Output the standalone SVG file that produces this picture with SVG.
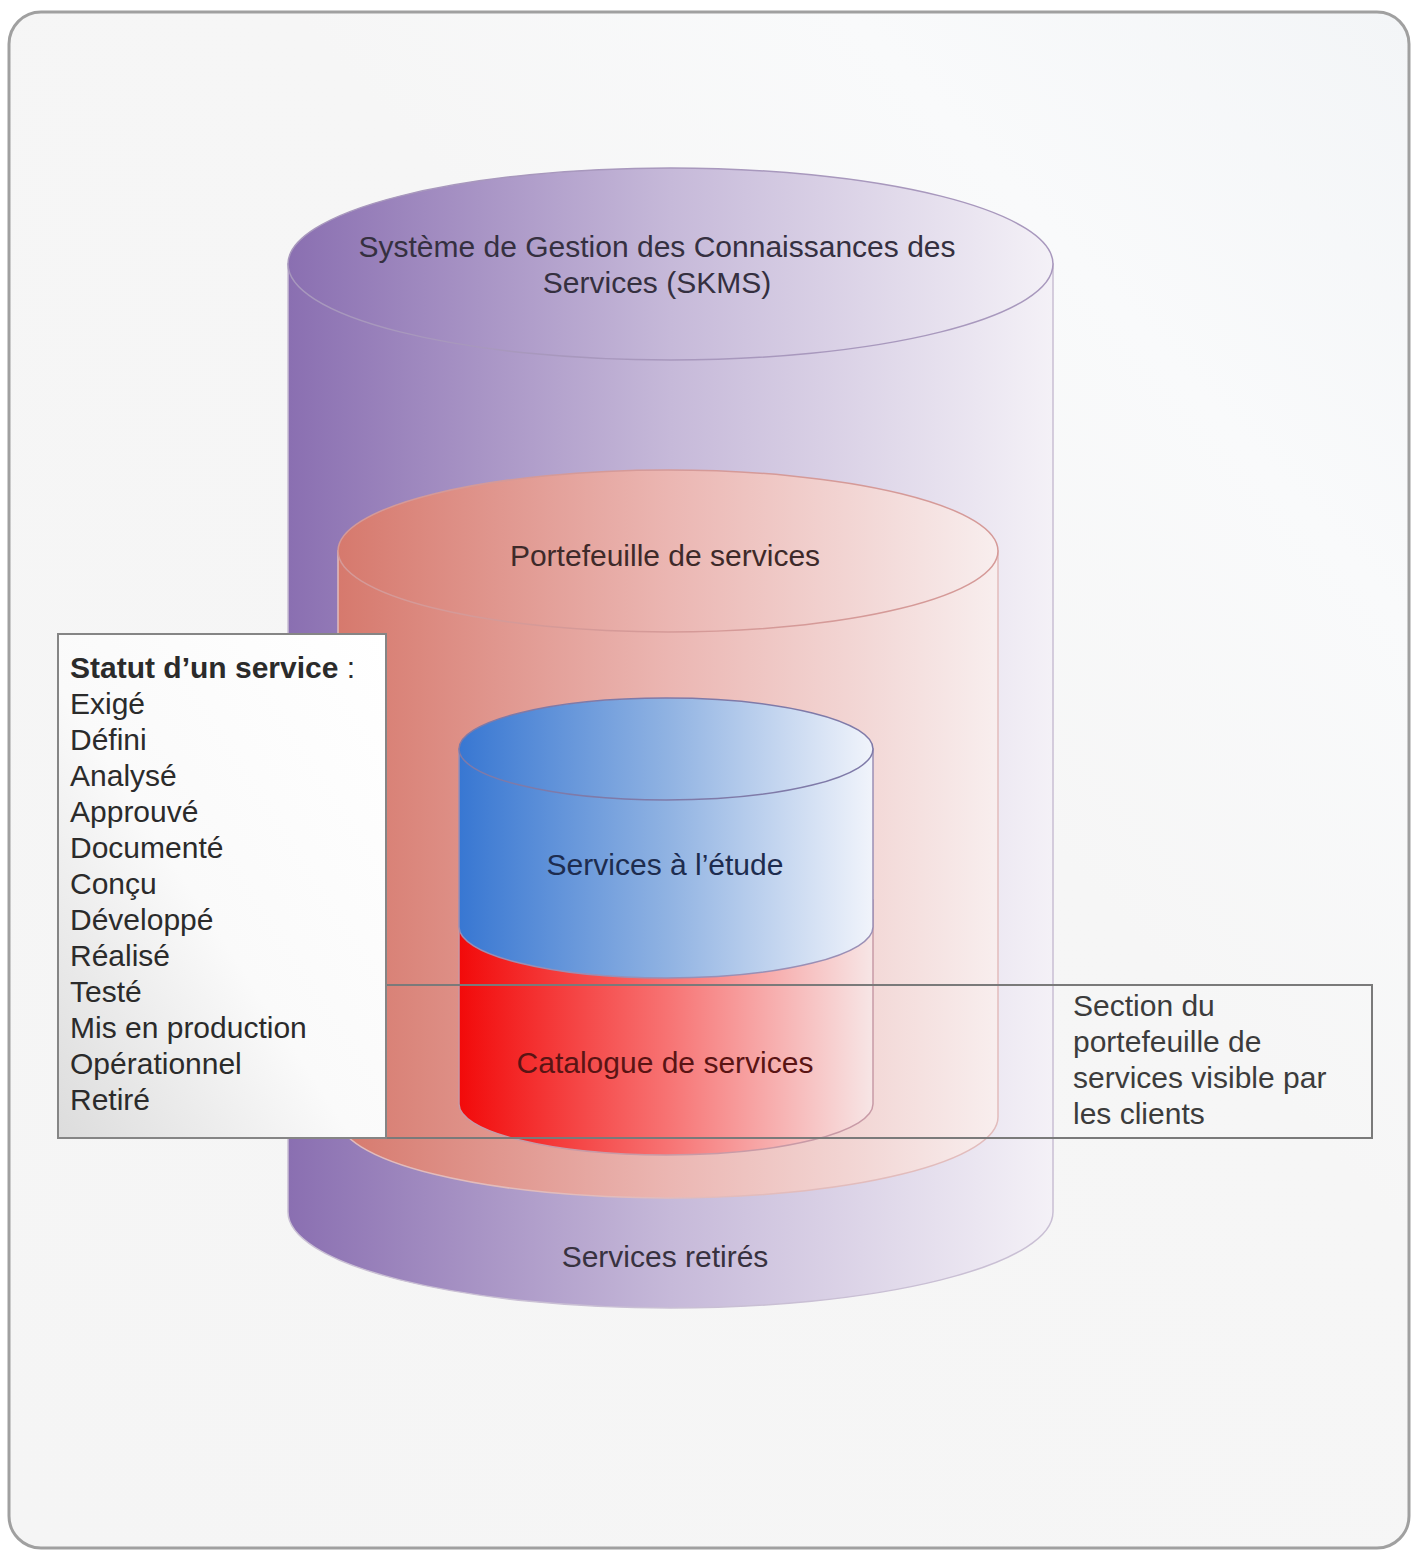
<svg xmlns="http://www.w3.org/2000/svg" width="1419" height="1552" viewBox="0 0 1419 1552">
  <defs>
    <linearGradient id="bg" x1="0" y1="1" x2="1" y2="0">
      <stop offset="0" stop-color="#f5f5f5"/>
      <stop offset="0.6" stop-color="#f6f6f6"/>
      <stop offset="0.8" stop-color="#f9fafb"/>
      <stop offset="1" stop-color="#f3f5f7"/>
    </linearGradient>
    <linearGradient id="purple" gradientUnits="userSpaceOnUse" x1="288" y1="0" x2="1053" y2="0">
      <stop offset="0" stop-color="#8a6fb1"/>
      <stop offset="0.5" stop-color="#c6b9d9"/>
      <stop offset="1" stop-color="#f4f1f7"/>
    </linearGradient>
    <linearGradient id="salmon" gradientUnits="userSpaceOnUse" x1="338" y1="0" x2="998" y2="0">
      <stop offset="0" stop-color="#d6796d"/>
      <stop offset="0.5" stop-color="#ebb6b2"/>
      <stop offset="1" stop-color="#f8eeee"/>
    </linearGradient>
    <linearGradient id="blue" gradientUnits="userSpaceOnUse" x1="459" y1="0" x2="873" y2="0">
      <stop offset="0" stop-color="#3877d2"/>
      <stop offset="0.5" stop-color="#8fb2e2"/>
      <stop offset="1" stop-color="#f1f4fb"/>
    </linearGradient>
    <linearGradient id="red" gradientUnits="userSpaceOnUse" x1="459" y1="0" x2="873" y2="0">
      <stop offset="0" stop-color="#f20a0a"/>
      <stop offset="0.5" stop-color="#f77272"/>
      <stop offset="1" stop-color="#f7e6e6"/>
    </linearGradient>
    <linearGradient id="card" x1="1" y1="0" x2="0" y2="1">
      <stop offset="0" stop-color="#ffffff"/>
      <stop offset="0.55" stop-color="#fafafa"/>
      <stop offset="1" stop-color="#dcdcdc"/>
    </linearGradient>
  </defs>
  <style>
    text { font-family: "Liberation Sans", Arial, sans-serif; font-size: 30px; }
    .mid { text-anchor: middle; }
    .edge { stroke-width: 1.5; }
    .list { fill: #2b2b2b; }
    .note { fill: #3c3c3c; }
  </style>

  <!-- page frame -->
  <rect x="9" y="12" width="1400" height="1536" rx="32" fill="url(#bg)" stroke="#a0a0a0" stroke-width="3"/>

  <!-- SKMS (outer cylinder) -->
  <g id="skms">
    <path d="M288,264 L288,1212 A382.5,96 0 0 0 1053,1212 L1053,264 Z" fill="url(#purple)" stroke="#c9bfd4" class="edge"/>
    <ellipse cx="670.5" cy="264" rx="382.5" ry="96" fill="url(#purple)" stroke="#a898bd" class="edge"/>
    <text class="mid" x="657" y="257" fill="#353040">Système de Gestion des Connaissances des</text>
    <text class="mid" x="657" y="293" fill="#353040">Services (SKMS)</text>
    <text class="mid" x="665" y="1267" fill="#38323f">Services retirés</text>
  </g>

  <!-- service portfolio (middle cylinder) -->
  <g id="portefeuille">
    <path d="M338,551 L338,1117 A330,81 0 0 0 998,1117 L998,551 Z" fill="url(#salmon)" stroke="#e2bcbc" class="edge"/>
    <ellipse cx="668" cy="551" rx="330" ry="81" fill="url(#salmon)" stroke="#d59a98" class="edge"/>
    <text class="mid" x="665" y="566" fill="#3e2a2a">Portefeuille de services</text>
  </g>

  <!-- service catalogue (lower inner cylinder) -->
  <g id="catalogue">
    <path d="M459,900 L459,1104 A207,51 0 0 0 873,1104 L873,900 Z" fill="url(#red)" stroke="#c89aa6" class="edge"/>
    <text class="mid" x="665" y="1073" fill="#5a1414">Catalogue de services</text>
  </g>

  <!-- service pipeline (upper inner cylinder) -->
  <g id="etude">
    <path d="M459,749 L459,927 A207,51 0 0 0 873,927 L873,749 Z" fill="url(#blue)" stroke="#9a8fb5" class="edge"/>
    <ellipse cx="666" cy="749" rx="207" ry="51" fill="url(#blue)" stroke="#7f7aa8" class="edge"/>
    <text class="mid" x="665" y="875" fill="#1d2c4f">Services à l’étude</text>
  </g>

  <!-- customer-visible section -->
  <g id="section-visible">
    <rect x="58" y="985" width="1314" height="153" fill="none" stroke="#7a7a7a" stroke-width="2"/>
    <text class="note" x="1073" y="1016">Section du</text>
    <text class="note" x="1073" y="1052">portefeuille de</text>
    <text class="note" x="1073" y="1088">services visible par</text>
    <text class="note" x="1073" y="1124">les clients</text>
  </g>

  <!-- service status list -->
  <g id="statut">
    <rect x="58" y="634" width="328" height="504" fill="url(#card)" stroke="#858585" stroke-width="2"/>
    <text class="list" x="70" y="678"><tspan font-weight="bold">Statut d’un service</tspan> :</text>
    <text class="list" x="70" y="714">Exigé</text>
    <text class="list" x="70" y="750">Défini</text>
    <text class="list" x="70" y="786">Analysé</text>
    <text class="list" x="70" y="822">Approuvé</text>
    <text class="list" x="70" y="858">Documenté</text>
    <text class="list" x="70" y="894">Conçu</text>
    <text class="list" x="70" y="930">Développé</text>
    <text class="list" x="70" y="966">Réalisé</text>
    <text class="list" x="70" y="1002">Testé</text>
    <text class="list" x="70" y="1038">Mis en production</text>
    <text class="list" x="70" y="1074">Opérationnel</text>
    <text class="list" x="70" y="1110">Retiré</text>
  </g>
</svg>
